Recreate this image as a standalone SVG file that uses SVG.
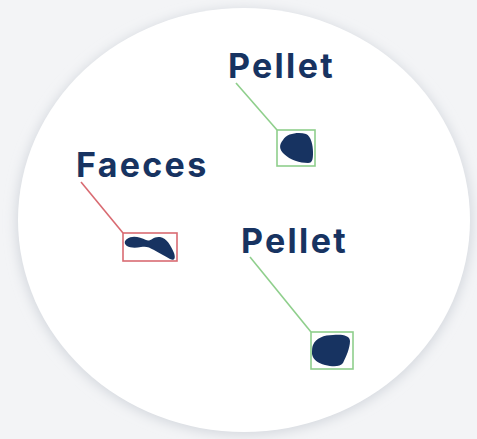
<svg xmlns="http://www.w3.org/2000/svg" width="477" height="439" viewBox="0 0 477 439">
<defs>
<filter id="sh" x="-10%" y="-10%" width="120%" height="120%">
<feGaussianBlur stdDeviation="6"/>
</filter>
<style>
.lbl{font-family:"Inter","Liberation Sans",sans-serif;font-weight:700;font-size:34px;letter-spacing:2.3px;fill:#173361}
.blob{fill:#173361}
.g{fill:none;stroke:#8fcf8c;stroke-width:1.6}
.r{fill:none;stroke:#d96b72;stroke-width:1.6}
</style>
</defs>
<rect width="477" height="439" fill="#f3f4f6"/>
<ellipse cx="244" cy="222" rx="228" ry="213" fill="#d4d8de" filter="url(#sh)"/>
<ellipse cx="244" cy="220" rx="226" ry="212" fill="#ffffff"/>
<g id="connectors">
<line class="g" x1="236" y1="83" x2="277" y2="130"/>
<line class="r" x1="81" y1="182" x2="123" y2="233"/>
<line class="g" x1="250" y1="257" x2="311" y2="332"/>
</g>
<g id="pellet1">
<text class="lbl" x="228" y="78">Pellet</text>
<rect class="g" x="277" y="130" width="38" height="36"/>
<path class="blob" d="M283 140 C287 133 299 132 306 134 C311 136 313 145 313 152 C313 158 313 163 308 163 C300 163 290 160 284 154 C279 149 279 145 283 140 Z"/>
</g>
<g id="faeces">
<text class="lbl" x="76" y="177">Faeces</text>
<rect class="r" x="123" y="233" width="54" height="28"/>
<path class="blob" d="M127 239 C132 235 140 237 146 240 C151 242 153 236 160 237 C167 238 171 246 174 253 C176 259 174 261 170 259 C165 256 159 253 154 250 C149 247 146 246 141 247 C136 248 130 248 127 246 C124 244 124 241 127 239 Z"/>
</g>
<g id="pellet2">
<text class="lbl" x="241" y="253">Pellet</text>
<rect class="g" x="311" y="332" width="42" height="37"/>
<path class="blob" d="M313 345 C316 338 324 335 333 335 C341 334 350 335 350 341 C350 348 346 357 343 363 C340 367 333 367 325 365 C318 363 313 360 312 354 C312 350 312 347 313 345 Z"/>
</g>
</svg>
